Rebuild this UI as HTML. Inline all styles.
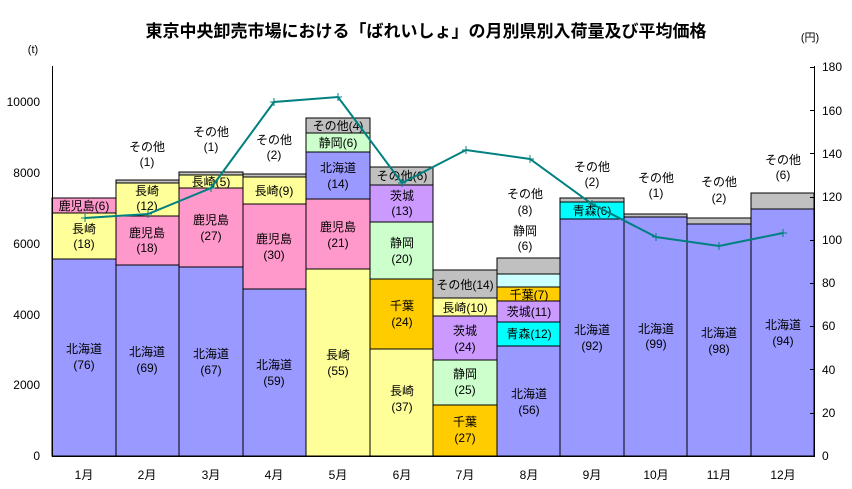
<!DOCTYPE html>
<html><head><meta charset="utf-8"><style>
html,body{margin:0;padding:0;background:#fff}
svg{display:block}
text{font-family:"Liberation Sans","Noto Sans CJK JP",sans-serif;font-size:12px;fill:#000}
</style></head><body>
<svg width="852" height="489" viewBox="0 0 852 489" xmlns="http://www.w3.org/2000/svg">
<text x="426" y="37" text-anchor="middle" style="font-size:17px;font-weight:bold">東京中央卸売市場における「ばれいしょ」の月別県別入荷量及び平均価格</text>
<text x="33" y="53" text-anchor="middle" style="font-size:11px">(t)</text>
<text x="810" y="41" text-anchor="middle" style="font-size:11px">(円)</text>
<g stroke="#000" stroke-width="1">
<rect x="52" y="198" width="64" height="15" fill="#ff99cc"/>
<rect x="52" y="213" width="64" height="46" fill="#ffff99"/>
<rect x="52" y="259" width="64" height="197" fill="#9999ff"/>
<rect x="116" y="180" width="63" height="3" fill="#c0c0c0"/>
<rect x="116" y="183" width="63" height="33" fill="#ffff99"/>
<rect x="116" y="216" width="63" height="49" fill="#ff99cc"/>
<rect x="116" y="265" width="63" height="191" fill="#9999ff"/>
<rect x="179" y="172" width="64" height="3" fill="#c0c0c0"/>
<rect x="179" y="175" width="64" height="13" fill="#ffff99"/>
<rect x="179" y="188" width="64" height="79" fill="#ff99cc"/>
<rect x="179" y="267" width="64" height="189" fill="#9999ff"/>
<rect x="243" y="174" width="63" height="3" fill="#c0c0c0"/>
<rect x="243" y="177" width="63" height="27" fill="#ffff99"/>
<rect x="243" y="204" width="63" height="85" fill="#ff99cc"/>
<rect x="243" y="289" width="63" height="167" fill="#9999ff"/>
<rect x="306" y="118" width="64" height="15" fill="#c0c0c0"/>
<rect x="306" y="133" width="64" height="19" fill="#ccffcc"/>
<rect x="306" y="152" width="64" height="47" fill="#9999ff"/>
<rect x="306" y="199" width="64" height="70" fill="#ff99cc"/>
<rect x="306" y="269" width="64" height="187" fill="#ffff99"/>
<rect x="370" y="167" width="63" height="18" fill="#c0c0c0"/>
<rect x="370" y="185" width="63" height="37" fill="#cc99ff"/>
<rect x="370" y="222" width="63" height="57" fill="#ccffcc"/>
<rect x="370" y="279" width="63" height="70" fill="#ffcc00"/>
<rect x="370" y="349" width="63" height="107" fill="#ffff99"/>
<rect x="433" y="270" width="64" height="28" fill="#c0c0c0"/>
<rect x="433" y="298" width="64" height="18" fill="#ffff99"/>
<rect x="433" y="316" width="64" height="44" fill="#cc99ff"/>
<rect x="433" y="360" width="64" height="45" fill="#ccffcc"/>
<rect x="433" y="405" width="64" height="51" fill="#ffcc00"/>
<rect x="497" y="258" width="63" height="16" fill="#c0c0c0"/>
<rect x="497" y="274" width="63" height="13" fill="#ccffff"/>
<rect x="497" y="287" width="63" height="14" fill="#ffcc00"/>
<rect x="497" y="301" width="63" height="21" fill="#cc99ff"/>
<rect x="497" y="322" width="63" height="24" fill="#00ffff"/>
<rect x="497" y="346" width="63" height="110" fill="#9999ff"/>
<rect x="560" y="198" width="64" height="4" fill="#c0c0c0"/>
<rect x="560" y="202" width="64" height="17" fill="#00ffff"/>
<rect x="560" y="219" width="64" height="237" fill="#9999ff"/>
<rect x="624" y="214" width="63" height="3" fill="#c0c0c0"/>
<rect x="624" y="217" width="63" height="239" fill="#9999ff"/>
<rect x="687" y="218" width="64" height="6" fill="#c0c0c0"/>
<rect x="687" y="224" width="64" height="232" fill="#9999ff"/>
<rect x="751" y="193" width="63" height="16" fill="#c0c0c0"/>
<rect x="751" y="209" width="63" height="247" fill="#9999ff"/>
</g>
<g stroke="#000" stroke-width="1">
<line x1="52.5" y1="66" x2="52.5" y2="456"/>
<line x1="52" y1="456.5" x2="815" y2="456.5"/>
<line x1="814.5" y1="66" x2="814.5" y2="456"/>
<line x1="810" y1="67.5" x2="814" y2="67.5"/>
<line x1="810" y1="110.5" x2="814" y2="110.5"/>
<line x1="810" y1="153.5" x2="814" y2="153.5"/>
<line x1="810" y1="197.5" x2="814" y2="197.5"/>
<line x1="810" y1="240.5" x2="814" y2="240.5"/>
<line x1="810" y1="283.5" x2="814" y2="283.5"/>
<line x1="810" y1="326.5" x2="814" y2="326.5"/>
<line x1="810" y1="369.5" x2="814" y2="369.5"/>
<line x1="810" y1="413.5" x2="814" y2="413.5"/>
</g>
<g text-anchor="end">
<text x="40" y="106">10000</text><text x="40" y="177">8000</text><text x="40" y="248">6000</text>
<text x="40" y="319">4000</text><text x="40" y="389">2000</text><text x="40" y="460">0</text>
</g>
<g>
<text x="822" y="71">180</text><text x="822" y="115">160</text><text x="822" y="158">140</text>
<text x="822" y="201">120</text><text x="822" y="244">100</text><text x="822" y="287">80</text>
<text x="822" y="330">60</text><text x="822" y="374">40</text><text x="822" y="417">20</text><text x="822" y="460">0</text>
</g>
<g text-anchor="middle" style="font-size:11px">
<text x="84" y="479">1月</text><text x="147" y="479">2月</text><text x="211" y="479">3月</text>
<text x="274" y="479">4月</text><text x="338" y="479">5月</text><text x="402" y="479">6月</text>
<text x="465" y="479">7月</text><text x="529" y="479">8月</text><text x="592" y="479">9月</text>
<text x="656" y="479">10月</text><text x="719" y="479">11月</text><text x="783" y="479">12月</text>
</g>
<g text-anchor="middle">
<text x="84" y="210">鹿児島(6)</text>
<text x="84" y="233">長崎</text><text x="84" y="248">(18)</text>
<text x="84" y="353">北海道</text><text x="84" y="369">(76)</text>
<text x="147" y="151">その他</text><text x="147" y="166">(1)</text>
<text x="147" y="195">長崎</text><text x="147" y="210">(12)</text>
<text x="147" y="237">鹿児島</text><text x="147" y="252">(18)</text>
<text x="147" y="356">北海道</text><text x="147" y="372">(69)</text>
<text x="211" y="136">その他</text><text x="211" y="151">(1)</text>
<text x="211" y="186">長崎(5)</text>
<text x="211" y="224">鹿児島</text><text x="211" y="240">(27)</text>
<text x="211" y="358">北海道</text><text x="211" y="374">(67)</text>
<text x="274" y="144">その他</text><text x="274" y="159">(2)</text>
<text x="274" y="195">長崎(9)</text>
<text x="274" y="243">鹿児島</text><text x="274" y="259">(30)</text>
<text x="274" y="369">北海道</text><text x="274" y="385">(59)</text>
<text x="338" y="130">その他(4)</text>
<text x="338" y="147">静岡(6)</text>
<text x="338" y="172">北海道</text><text x="338" y="188">(14)</text>
<text x="338" y="231">鹿児島</text><text x="338" y="247">(21)</text>
<text x="338" y="359">長崎</text><text x="338" y="375">(55)</text>
<text x="402" y="180">その他(6)</text>
<text x="402" y="200">茨城</text><text x="402" y="215">(13)</text>
<text x="402" y="247">静岡</text><text x="402" y="263">(20)</text>
<text x="402" y="310">千葉</text><text x="402" y="326">(24)</text>
<text x="402" y="395">長崎</text><text x="402" y="411">(37)</text>
<text x="465" y="289">その他(14)</text>
<text x="465" y="312">長崎(10)</text>
<text x="465" y="335">茨城</text><text x="465" y="351">(24)</text>
<text x="465" y="378">静岡</text><text x="465" y="394">(25)</text>
<text x="465" y="426">千葉</text><text x="465" y="442">(27)</text>
<text x="525" y="198">その他</text><text x="525" y="214">(8)</text>
<text x="525" y="235">静岡</text><text x="525" y="250">(6)</text>
<text x="529" y="299">千葉(7)</text>
<text x="529" y="316">茨城(11)</text>
<text x="529" y="338">青森(12)</text>
<text x="529" y="398">北海道</text><text x="529" y="414">(56)</text>
<text x="592" y="171">その他</text><text x="592" y="186">(2)</text>
<text x="592" y="215">青森(6)</text>
<text x="592" y="334">北海道</text><text x="592" y="350">(92)</text>
<text x="656" y="182">その他</text><text x="656" y="197">(1)</text>
<text x="656" y="333">北海道</text><text x="656" y="348">(99)</text>
<text x="719" y="186">その他</text><text x="719" y="202">(2)</text>
<text x="719" y="337">北海道</text><text x="719" y="353">(98)</text>
<text x="783" y="164">その他</text><text x="783" y="179">(6)</text>
<text x="783" y="329">北海道</text><text x="783" y="345">(94)</text>
</g>
<polyline fill="none" stroke="#008080" stroke-width="2" points="85,218 148,214 211,188 274,102 338,97 402,183 466,150 530,159 592,204 656,237 719,246 783,233"/>
<g stroke="#008080" stroke-width="1">
<path d="M81 218h8M85 214v8M144 214h8M148 210v8M207 188h8M211 184v8M270 102h8M274 98v8M334 97h8M338 93v8M398 183h8M402 179v8M462 150h8M466 146v8M526 159h8M530 155v8M588 204h8M592 200v8M652 237h8M656 233v8M715 246h8M719 242v8M779 233h8M783 229v8"/>
</g>
</svg>
</body></html>
